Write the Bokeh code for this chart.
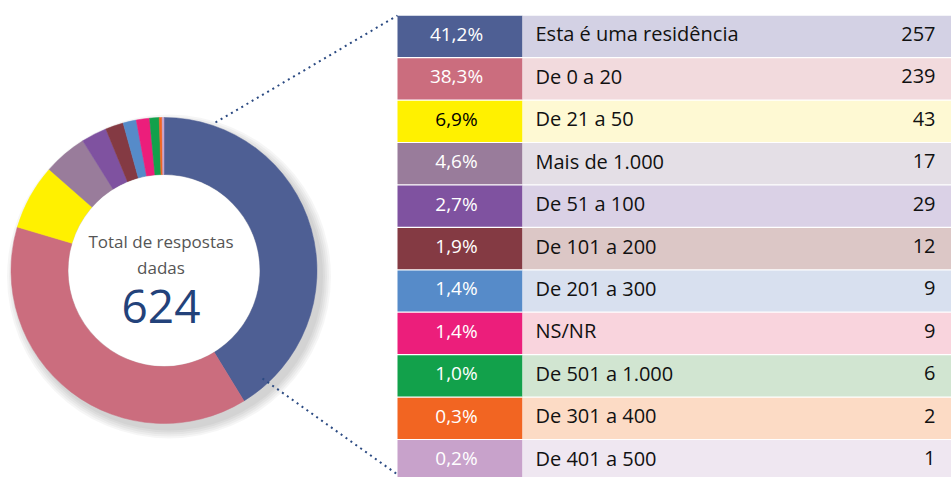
import math
from bokeh.plotting import figure
from bokeh.models import Range1d, ColumnDataSource
from bokeh.core.properties import value
from bokeh.embed import file_html
from bokeh.resources import INLINE

# ---- data ----
categories = ["Esta é uma residência", "De 0 a 20", "De 21 a 50", "Mais de 1.000",
              "De 51 a 100", "De 101 a 200", "De 201 a 300", "NS/NR",
              "De 501 a 1.000", "De 301 a 400", "De 401 a 500"]
percents = [41.2, 38.3, 6.9, 4.6, 2.7, 1.9, 1.4, 1.4, 1.0, 0.3, 0.2]
counts = [257, 239, 43, 17, 29, 12, 9, 9, 6, 2, 1]
total = 624
colors = ["#4e5f94", "#cb6d7e", "#fff100", "#997c9b", "#7f52a0", "#843a43",
          "#568bc9", "#ec1e7b", "#12a14b", "#f26522", "#c8a2cb"]
light_colors = ["#d3d1e4", "#f2dadd", "#fef9d3", "#e4dfe6", "#dad1e6", "#dcc7c6",
                "#d8e0ef", "#f9d4dd", "#d1e5d1", "#fcdbc5", "#efe7f1"]
pct_text_colors = ["white", "white", "black", "white", "white", "white",
                   "white", "white", "white", "white", "white"]

W, H = 951, 477  # reference size; y flipped into data space


def Y(y):
    return H - y


p = figure(width=W, height=H, output_backend="svg", toolbar_location=None,
           x_range=Range1d(0, W), y_range=Range1d(0, H),
           x_axis_type=None, y_axis_type=None, min_border=0,
           outline_line_color=None, background_fill_color="white")
p.grid.visible = False

FONT = value("Open Sans")

# ---- donut ----
cx, cy = 163.5, Y(270)
r_out, r_in = 153, 96

# soft shadow
for r in [162, 160, 158, 156, 154]:
    p.circle(x=[cx + 5], y=[cy - 6], radius=r, fill_color="#000000",
             fill_alpha=0.035, line_color=None)

s = sum(percents)
starts, ends = [], []
acc = 0.0
for v in percents:
    starts.append(math.pi / 2 - acc / s * 2 * math.pi)
    acc += v
    ends.append(math.pi / 2 - acc / s * 2 * math.pi)

dsrc = ColumnDataSource(dict(start=starts, end=ends, color=colors,
                             x=[cx] * len(percents), y=[cy] * len(percents)))
p.annular_wedge(x="x", y="y", inner_radius=r_in, outer_radius=r_out,
                start_angle="start", end_angle="end", direction="clock",
                fill_color="color", line_color="color", line_width=0.5,
                source=dsrc)
p.circle(x=[cx], y=[cy], radius=r_in - 0.5, fill_color="white", line_color=None)

tx = cx - 3
p.text(x=[tx], y=[Y(241)], text=["Total de respostas"], text_font=FONT,
       text_font_size="17px", text_color="#555555", text_align="center",
       text_baseline="middle")
p.text(x=[tx], y=[Y(267)], text=["dadas"], text_font=FONT,
       text_font_size="17px", text_color="#555555", text_align="center",
       text_baseline="middle")
p.text(x=[tx], y=[Y(306)], text=[str(total)], text_font=FONT,
       text_font_size="46px", text_color="#23427a", text_align="center",
       text_baseline="middle")

# ---- dotted connectors ----
p.line(x=[215, 397], y=[Y(122), Y(15)], line_color="#2b4a82", line_width=2,
       line_dash="2 4")
p.line(x=[262, 397], y=[Y(378), Y(474)], line_color="#2b4a82", line_width=2,
       line_dash="2 4")

# ---- table ----
top, pitch = 14.7, 42.43
n = len(categories)
row_top = [top + i * pitch for i in range(n)]
yc = [Y(t + pitch / 2) for t in row_top]
ytxt = [Y(t + pitch / 2 - 2.5) for t in row_top]
row_h = [pitch - 1.2] * n

left_x0, left_x1, right_x1 = 397, 522, 960
tsrc = ColumnDataSource(dict(
    yc=yc, yt=ytxt, h=row_h, color=colors, light=light_colors,
    pct=[f"{v:.1f}".replace(".", ",") + "%" for v in percents],
    cat=categories, cnt=[str(c) for c in counts], pcol=pct_text_colors,
    lx=[(left_x0 + left_x1) / 2] * n, lw=[left_x1 - left_x0] * n,
    rx=[(left_x1 + right_x1) / 2] * n, rw=[right_x1 - left_x1] * n,
    px=[456] * n, labx=[535] * n, cntx=[935] * n,
))
p.rect(x="lx", y="yc", width="lw", height="h", fill_color="color",
       line_color=None, source=tsrc)
p.rect(x="rx", y="yc", width="rw", height="h", fill_color="light",
       line_color=None, source=tsrc)
p.text(x="px", y="yt", text="pct", text_color="pcol", text_font=FONT,
       text_font_size="19px", text_align="center", text_baseline="middle",
       source=tsrc)
p.text(x="labx", y="yt", text="cat", text_color="#111111", text_font=FONT,
       text_font_size="20px", text_align="left", text_baseline="middle",
       source=tsrc)
p.text(x="cntx", y="yt", text="cnt", text_color="#111111", text_font=FONT,
       text_font_size="20px", text_align="right", text_baseline="middle",
       source=tsrc)

open("out.html", "w").write(file_html(p, INLINE))
